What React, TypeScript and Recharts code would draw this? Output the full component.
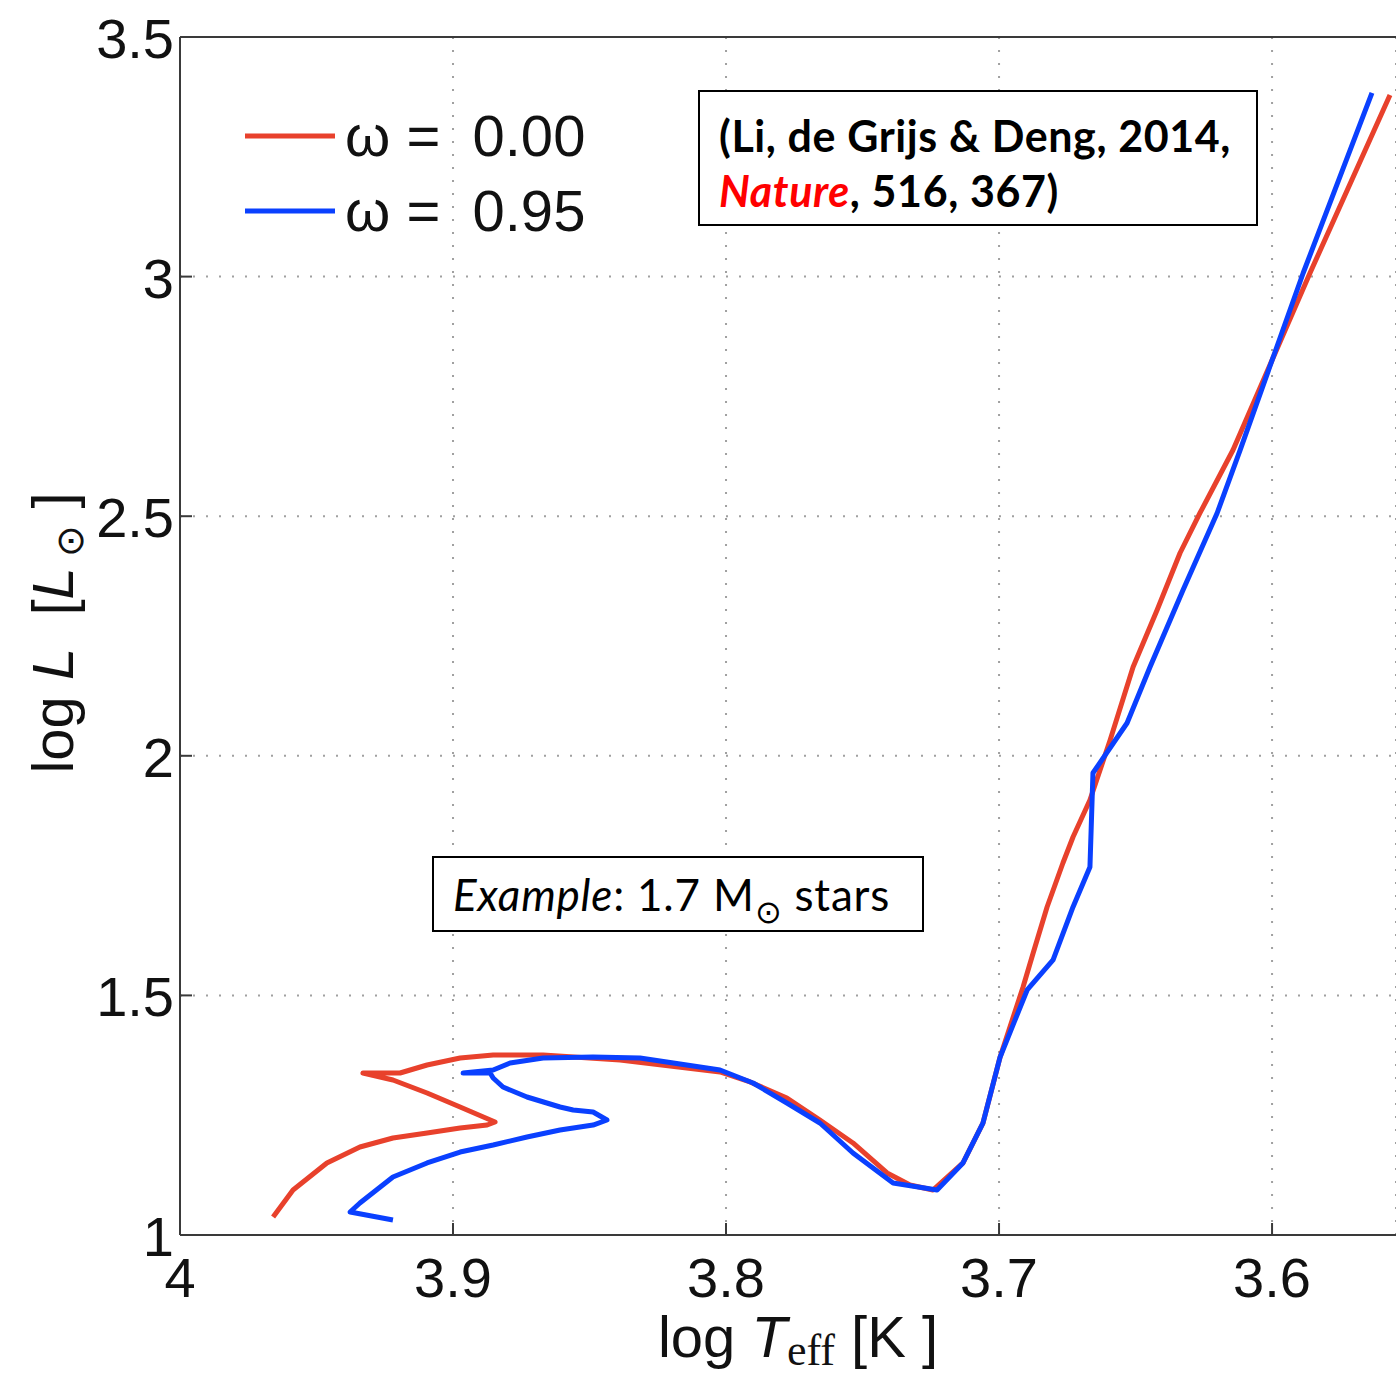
import { CartesianGrid, Legend, Line, LineChart, ReferenceLine, XAxis, YAxis } from "recharts";

const CHART_W = 1396;
const CHART_H = 1373;

// axis ticks: log Teff runs hot -> cool, left to right
const teffTicks = [4, 3.9, 3.8, 3.7, 3.6];
const lumTicks = [1, 1.5, 2, 2.5, 3, 3.5];

// 1.7 Msun track without rotation (omega = 0.00)
const teffSlow = [
  3.9659, 3.9586, 3.9462, 3.9341, 3.922, 3.9095, 3.8974, 3.8875, 3.8846, 3.8974, 3.9095,
  3.922, 3.933, 3.9194, 3.9095, 3.8974, 3.8853, 3.867, 3.8388, 3.8022, 3.7912, 3.7777,
  3.7656, 3.7535, 3.741, 3.7326, 3.7242, 3.7132, 3.7059, 3.6996, 3.6912, 3.6875, 3.6824,
  3.6766, 3.6729, 3.6667, 3.6593, 3.6509, 3.6421, 3.6337, 3.6264, 3.6143, 3.5861, 3.5568,
];
const lumSlow = [
  1.0376, 1.0939, 1.1503, 1.1836, 1.2024, 1.2129, 1.2233, 1.2295, 1.2358, 1.2671, 1.2963,
  1.3235, 1.3381, 1.3381, 1.3548, 1.3694, 1.3756, 1.3756, 1.3652, 1.3402, 1.3193, 1.2859,
  1.24, 1.192, 1.1294, 1.1043, 1.0939, 1.1503, 1.2337, 1.3715, 1.5175, 1.5885, 1.6845,
  1.7763, 1.8306, 1.9078, 2.033, 2.1853, 2.3043, 2.4232, 2.5067, 2.6381, 3.0075, 3.379,
];

// 1.7 Msun track, fast rotator (omega = 0.95)
const teffFast = [
  3.922, 3.9377, 3.9341, 3.922, 3.9095, 3.8974, 3.8853, 3.8729, 3.8608, 3.8487, 3.8436,
  3.8487, 3.856, 3.8608, 3.8729, 3.8817, 3.8853, 3.8864, 3.8963, 3.8853, 3.8791, 3.867,
  3.8487, 3.8315, 3.8022, 3.7901, 3.7777, 3.7656, 3.7535, 3.7388, 3.7227, 3.7132, 3.7059,
  3.6996, 3.6897, 3.6802, 3.6729, 3.6667, 3.6656, 3.6531, 3.6447, 3.6326, 3.6201, 3.6117,
  3.5886, 3.5634,
];
const lumFast = [
  1.0313, 1.048, 1.0668, 1.121, 1.1503, 1.1732, 1.1878, 1.2045, 1.2191, 1.2295, 1.24,
  1.2567, 1.2608, 1.2671, 1.288, 1.3088, 1.3276, 1.3381, 1.3381, 1.3443, 1.3589, 1.3694,
  1.3715, 1.3694, 1.3443, 1.3172, 1.2755, 1.2337, 1.1711, 1.1085, 1.0939, 1.1503, 1.2337,
  1.3715, 1.5113, 1.5739, 1.6845, 1.768, 1.9641, 2.0684, 2.1853, 2.346, 2.5067, 2.6381,
  3.0075, 3.3832,
];

const slowTrack = teffSlow.map((t, i) => ({ teff: t, lum: lumSlow[i] }));
const fastTrack = teffFast.map((t, i) => ({ teff: t, lum: lumFast[i] }));

const AXIS_FONT = "'Liberation Sans', Arial, sans-serif";
const NOTE_FONT = "Lato, 'Open Sans', sans-serif";
const INK = "#111";
const FRAME = "#3a3a3a";

function TeffTick({ x, y, payload }: any) {
  return (
    <g>
      <line x1={x} x2={x} y1={y} y2={y - 12} stroke={FRAME} strokeWidth={2} />
      <text x={x} y={y + 62} textAnchor="middle" fontFamily={AXIS_FONT} fontSize={56} fill={INK}>
        {payload.value}
      </text>
    </g>
  );
}

function TopTick({ x, y }: any) {
  return <line x1={x} x2={x} y1={y} y2={y + 12} stroke={FRAME} strokeWidth={2} />;
}

function LumTick({ x, y, payload }: any) {
  return (
    <g>
      <line x1={x} x2={x + 12} y1={y} y2={y} stroke={FRAME} strokeWidth={2} />
      <text x={x - 6} y={y + 21} textAnchor="end" fontFamily={AXIS_FONT} fontSize={56} fill={INK}>
        {payload.value}
      </text>
    </g>
  );
}

function TeffTitle() {
  return (
    <text x={798} y={1357} textAnchor="middle" fontFamily={AXIS_FONT} fontSize={58} fill={INK} style={{ whiteSpace: "pre" }}>
      {"log "}
      <tspan fontStyle="italic">T</tspan>
      <tspan fontFamily="'Liberation Serif', serif" fontSize={44} dy={8}>eff</tspan>
      <tspan dy={-8}>{" [K ]"}</tspan>
    </text>
  );
}

function LumTitle() {
  return (
    <text
      x={73}
      y={633}
      transform="rotate(-90 73 633)"
      textAnchor="middle"
      fontFamily={AXIS_FONT}
      fontSize={58}
      fill={INK}
      style={{ whiteSpace: "pre" }}
    >
      {"log "}
      <tspan fontStyle="italic">L</tspan>
      {"  ["}
      <tspan fontStyle="italic">L</tspan>
      <tspan fontSize={38} dy={10}>{" ⊙"}</tspan>
      <tspan dy={-10}>{" ]"}</tspan>
    </text>
  );
}

function TrackLegend({ payload }: any) {
  return (
    <div>
      {(payload ?? []).map((p: any) => (
        <div key={p.value} style={{ display: "flex", alignItems: "center", height: 75 }}>
          <svg width={90} height={10}>
            <line x1={0} x2={90} y1={5} y2={5} stroke={p.color} strokeWidth={5} />
          </svg>
          <span
            style={{
              marginLeft: 10,
              fontFamily: AXIS_FONT,
              fontSize: 58,
              color: INK,
              whiteSpace: "pre",
              lineHeight: "75px",
            }}
          >
            {p.value}
          </span>
        </div>
      ))}
    </div>
  );
}

const boxStyle = {
  position: "absolute" as const,
  border: "2px solid #000",
  boxSizing: "border-box" as const,
  background: "#fff",
  fontFamily: NOTE_FONT,
  color: "#000",
  whiteSpace: "nowrap" as const,
};

export default function App() {
  return (
    <div style={{ position: "absolute", left: 0, top: 0, width: CHART_W, height: CHART_H, background: "#fff" }}>
      <LineChart width={CHART_W} height={CHART_H} margin={{ top: 37, right: 0, bottom: 0, left: 0 }}>
        <CartesianGrid
          xAxisId="bottom"
          stroke="#a0a0a0"
          strokeWidth={2}
          strokeDasharray="2 11"
        />
        <XAxis
          xAxisId="bottom"
          type="number"
          dataKey="teff"
          domain={[3.5546, 4]}
          reversed
          allowDataOverflow
          ticks={teffTicks}
          interval={0}
          height={138}
          tickSize={0}
          tickMargin={0}
          tickLine={false}
          axisLine={{ stroke: FRAME, strokeWidth: 2 }}
          tick={<TeffTick />}
          label={<TeffTitle />}
        />
        <XAxis
          xAxisId="top"
          orientation="top"
          type="number"
          domain={[3.5546, 4]}
          reversed
          allowDataOverflow
          ticks={teffTicks}
          interval={0}
          height={0}
          tickSize={0}
          tickMargin={0}
          tickLine={false}
          axisLine={{ stroke: FRAME, strokeWidth: 2 }}
          tick={<TopTick />}
        />
        <YAxis
          type="number"
          dataKey="lum"
          domain={[1, 3.5]}
          allowDataOverflow
          ticks={lumTicks}
          interval={0}
          width={180}
          tickSize={0}
          tickMargin={0}
          tickLine={false}
          axisLine={{ stroke: FRAME, strokeWidth: 2 }}
          tick={<LumTick />}
          label={<LumTitle />}
        />
        <ReferenceLine xAxisId="bottom" y={3.5} stroke={FRAME} strokeWidth={2} />
        <Legend
          layout="vertical"
          align="center"
          verticalAlign="middle"
          content={<TrackLegend />}
          wrapperStyle={{ top: 98, left: 245, width: 360, height: 150 }}
        />
        <Line
          xAxisId="bottom"
          data={slowTrack}
          dataKey="lum"
          name="ω =  0.00"
          type="linear"
          stroke="#e8412c"
          strokeWidth={5}
          strokeLinejoin="round"
          dot={false}
          isAnimationActive={false}
        />
        <Line
          xAxisId="bottom"
          data={fastTrack}
          dataKey="lum"
          name="ω =  0.95"
          type="linear"
          stroke="#0a40ff"
          strokeWidth={5}
          strokeLinejoin="round"
          dot={false}
          isAnimationActive={false}
        />
      </LineChart>

      <div style={{ ...boxStyle, left: 698, top: 90, width: 560, height: 136, fontWeight: 700, fontSize: 43, letterSpacing: 0.6, lineHeight: "55px", padding: "16px 0 0 19px" }}>
        <div>(Li, de Grijs &amp; Deng, 2014,</div>
        <div>
          <span style={{ color: "#ff0000", fontStyle: "italic" }}>Nature</span>, 516, 367)
        </div>
      </div>

      <div style={{ ...boxStyle, left: 432, top: 856, width: 492, height: 76, fontSize: 44, letterSpacing: 0.8, lineHeight: "72px", paddingLeft: 19 }}>
        <span style={{ fontStyle: "italic" }}>Example</span>: 1.7 M
        <span style={{ fontSize: 32, position: "relative", top: 12 }}>⊙</span> stars
      </div>
    </div>
  );
}
